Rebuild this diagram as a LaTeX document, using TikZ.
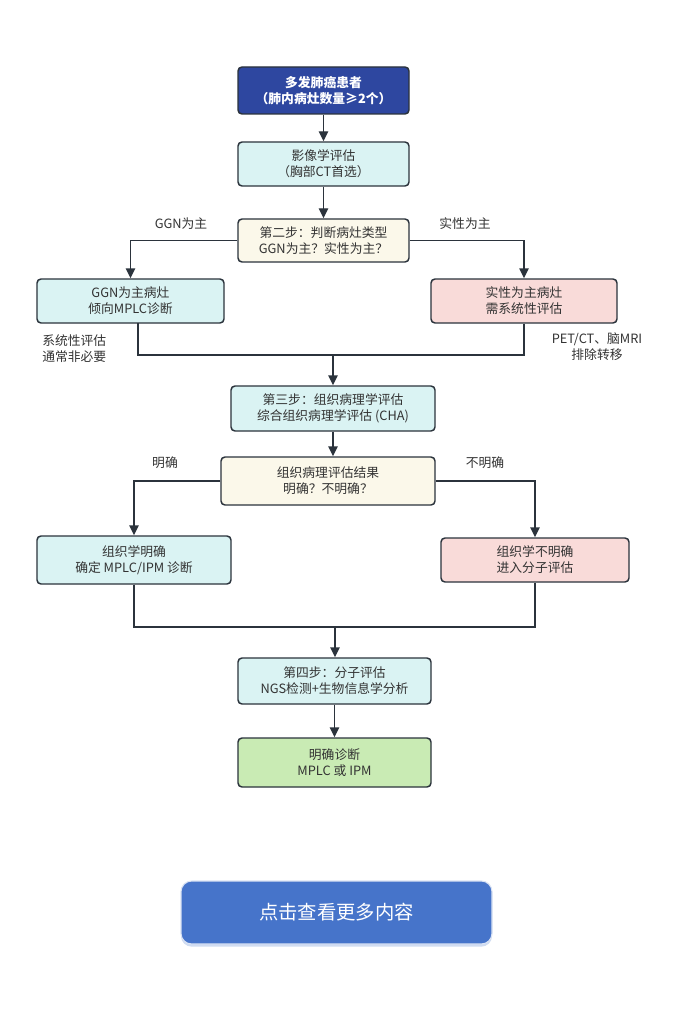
\documentclass[tikz,border=0pt]{standalone}
\usepackage{fontspec}
\setmainfont{Noto Sans CJK SC}
\usetikzlibrary{arrows.meta,shadows,calc}
\definecolor{edge}{HTML}{2B333C}
\definecolor{txt}{HTML}{333333}
\definecolor{cyanf}{HTML}{DAF3F3}
\definecolor{pinkf}{HTML}{F9DBD9}
\definecolor{creamf}{HTML}{FBF8EA}
\definecolor{greenf}{HTML}{C9EBB4}
\definecolor{navyf}{HTML}{2E47A0}
\definecolor{btnf}{HTML}{4674CA}
\tikzset{
  box/.style={draw=edge, line width=1.1pt, rounded corners=3pt, align=center,
    text=txt, inner sep=0pt, font=\fontsize{9.6}{12}\selectfont},
  conn/.style={draw=edge, line width=1.1pt},
  arr/.style={conn, -{Triangle[length=7.5pt,width=7pt]}},
  lbl/.style={text=txt, font=\fontsize{9.6}{12}\selectfont, inner sep=0pt},
}
\begin{document}
\begin{tikzpicture}[x=0.75pt,y=-0.75pt]
\useasboundingbox (0,0) rectangle (672,1009);
\fill[white] (0,0) rectangle (672,1009);
% nodes
\node[box, fill=navyf, text=white, font=\fontsize{9.6}{12.5}\selectfont\bfseries, minimum width=128.25pt, minimum height=35.25pt] (n1) at (323.5,90.5) {多发肺癌患者\\（肺内病灶数量≥2个）};
\node[box, fill=cyanf, minimum width=128.25pt, minimum height=33pt] (n2) at (323.5,164) {影像学评估\\（胸部CT首选）};
\node[box, fill=creamf, minimum width=128.25pt, minimum height=32.25pt] (n3) at (323.5,240.5) {第二步：判断病灶类型\\GGN为主？实性为主？};
\node[box, fill=cyanf, minimum width=140.25pt, minimum height=33pt] (n4) at (130.5,301) {GGN为主病灶\\倾向MPLC诊断};
\node[box, fill=pinkf, minimum width=139.5pt, minimum height=33pt] (n5) at (524,301) {实性为主病灶\\需系统性评估};
\node[box, fill=cyanf, minimum width=153pt, minimum height=33.75pt] (n6) at (333,408.5) {第三步：组织病理学评估\\综合组织病理学评估 (CHA)};
\node[box, fill=creamf, minimum width=160.5pt, minimum height=36pt] (n7) at (328,481) {组织病理评估结果\\明确？不明确？};
\node[box, fill=cyanf, minimum width=145.5pt, minimum height=36pt] (n8) at (134,560) {组织学明确\\确定 MPLC/IPM 诊断};
\node[box, fill=pinkf, minimum width=141pt, minimum height=33pt] (n9) at (535,560) {组织学不明确\\进入分子评估};
\node[box, fill=cyanf, minimum width=144.75pt, minimum height=34.5pt] (n10) at (334.5,681) {第四步：分子评估\\NGS检测+生物信息学分析};
\node[box, fill=greenf, minimum width=144.75pt, minimum height=36.75pt] (n11) at (334.5,762.5) {明确诊断\\MPLC 或 IPM};
% button
\node[draw=white!80!btnf, line width=0.8pt, fill=btnf, rounded corners=8pt, text=white,
  minimum width=233.25pt, minimum height=47.25pt, inner sep=0pt,
  font=\fontsize{14.5}{17}\selectfont,
  drop shadow={shadow xshift=0pt, shadow yshift=-2pt, opacity=0.25, fill=btnf}] (btn) at (336.5,912.5) {点击查看更多内容};
% connectors
\draw[arr] (n1) -- (n2);
\draw[arr] (n2) -- (n3);
\draw[arr] (n3.west) -| (n4.north);
\draw[arr] (n3.east) -| (n5.north);
\coordinate (m1) at (333,355);
\coordinate (n4b) at (138,323);
\draw[conn] (n4b) |- (m1);
\draw[conn] (n5.south) |- (m1);
\draw[arr] (m1) -- (n6.north -| m1);
\draw[arr] (n6.south) -- (n7.north -| n6.south);
\draw[arr] (n7.west) -| (n8.north);
\draw[arr] (n7.east) -| (n9.north);
\coordinate (m2) at (335,627);
\draw[conn] (n8.south) |- (m2);
\draw[conn] (n9.south) |- (m2);
\draw[arr] (m2) -- (n10.north -| m2);
\draw[arr] (n10) -- (n11);
% labels
\node[lbl] (l1) at (181,224) {GGN为主};
\node[lbl] (l2) at (465,224) {实性为主};
\node[lbl, align=left, anchor=west] (l3) at (42,348.5) {系统性评估\\通常非必要};
\node[lbl, align=center] (l4) at (597,347) {PET/CT、脑MRI\\排除转移};
\node[lbl] (l5) at (165,463) {明确};
\node[lbl] (l6) at (485,463) {不明确};
\end{tikzpicture}
\end{document}
